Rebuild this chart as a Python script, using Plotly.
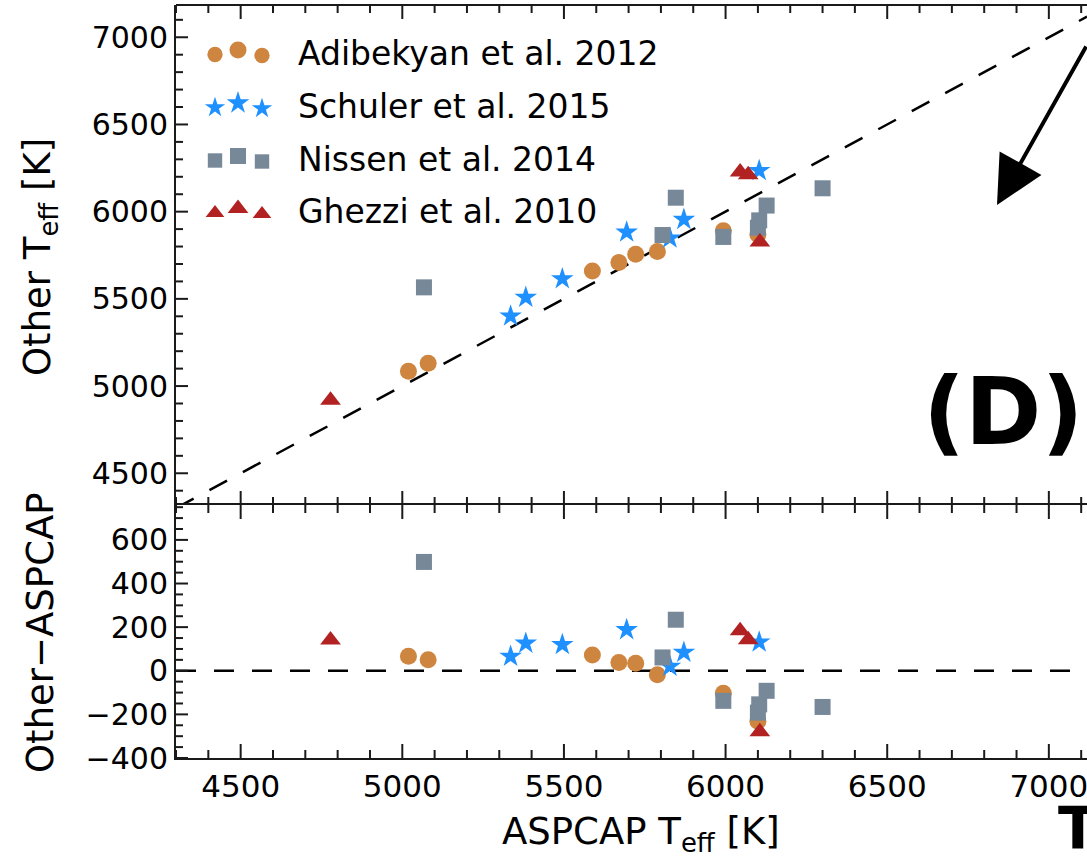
import plotly.graph_objects as go

# ---- data: ASPCAP vs literature effective temperatures [K] ----
adibekyan_aspcap = [5019, 5080, 5588, 5670, 5722, 5789, 5993, 6100]
adibekyan_other = [5085, 5131, 5660, 5708, 5756, 5771, 5890, 5869]

schuler_aspcap = [5335, 5382, 5495, 5694, 5828, 5871, 6104]
schuler_other = [5401, 5508, 5615, 5882, 5848, 5955, 6235]

nissen_aspcap = [5067, 5805, 5846, 5993, 6127, 6104, 6100, 6300]
nissen_other = [5566, 5866, 6080, 5855, 6035, 5950, 5908, 6134]

ghezzi_aspcap = [4778, 6045, 6070, 6106]
ghezzi_other = [4919, 6228, 6212, 5826]

series_names = ["Adibekyan et al. 2012", "Schuler et al. 2015",
                "Nissen et al. 2014", "Ghezzi et al. 2010"]

x_ticks = [4500, 5000, 5500, 6000, 6500, 7000]
top_ticks = [4500, 5000, 5500, 6000, 6500, 7000]
bottom_ticks = [-400, -200, 0, 200, 400, 600]

# ---- layout geometry ----
W, H = 1087, 858
L, R, T, B = 176, 0, 5, 100
PW, PH = W - L - R, H - T - B
SPLIT = 505  # pixel row separating the two panels
X_RANGE = [4300, 7118]
TOP_RANGE = [4318, 7185]
BOT_RANGE = [-400, 760]
TOP_H = SPLIT - T
BOT_H = H - B - SPLIT


def px_x(px):
    return (px - L) / PW


def px_y(py):
    return (H - B - py) / PH


split_frac = px_y(SPLIT)


# pixel position inside the upper panel -> its data coordinates
def top_x(px):
    return X_RANGE[0] + (px - L) / PW * (X_RANGE[1] - X_RANGE[0])


def top_y(py):
    return TOP_RANGE[1] - (py - T) / TOP_H * (TOP_RANGE[1] - TOP_RANGE[0])


styles = [
    dict(symbol="circle", color="#CD853F", size=17),
    dict(symbol="star", color="#1E90FF", size=17),
    dict(symbol="square", color="#778899", size=16),
    dict(symbol="triangle-up", color="#B22222", size=18),
]
xs = [adibekyan_aspcap, schuler_aspcap, nissen_aspcap, ghezzi_aspcap]
ys = [adibekyan_other, schuler_other, nissen_other, ghezzi_other]

fig = go.Figure()

# one-to-one reference line and zero-offset line
fig.add_trace(go.Scatter(x=X_RANGE, y=X_RANGE, mode="lines",
                         line=dict(color="black", width=2.5, dash="20px,18px"),
                         xaxis="x", yaxis="y", showlegend=False, hoverinfo="skip"))
fig.add_trace(go.Scatter(x=X_RANGE, y=[0, 0], mode="lines",
                         line=dict(color="black", width=2.5, dash="20px,18px"),
                         xaxis="x2", yaxis="y2", showlegend=False, hoverinfo="skip"))

for name, st, xv, yv in zip(series_names, styles, xs, ys):
    marker = dict(symbol=st["symbol"], color=st["color"], size=st["size"],
                  opacity=1, line=dict(width=0))
    fig.add_trace(go.Scatter(x=xv, y=yv, mode="markers", marker=marker,
                             name=name, xaxis="x", yaxis="y", showlegend=False))
    diff = [o - a for a, o in zip(xv, yv)]
    fig.add_trace(go.Scatter(x=xv, y=diff, mode="markers", marker=marker,
                             name=name, xaxis="x2", yaxis="y2", showlegend=False))

# legend: three staggered markers per entry in the upper-left corner
row_centers = [51, 104, 157, 209.5]
handle_x = [215, 238, 262]
handle_dy = [3.5, -1, 4.5]
handle_scale = [0.9, 1.0, 0.9]
for st, yc in zip(styles, row_centers):
    fig.add_trace(go.Scatter(
        x=[top_x(h) for h in handle_x], y=[top_y(yc + d) for d in handle_dy],
        mode="markers",
        marker=dict(symbol=st["symbol"], color=st["color"], opacity=1,
                    size=[st["size"] * s for s in handle_scale], line=dict(width=0)),
        xaxis="x", yaxis="y", showlegend=False, hoverinfo="skip"))

AX = "#1a1a1a"
tick_font = dict(family="DejaVu Sans", size=30, color="black")


def axis(ticks, **kw):
    base = dict(showline=True, linecolor=AX, linewidth=2, ticks="",
                tickmode="linear", tick0=ticks[0], dtick=ticks[1] - ticks[0],
                showgrid=False, zeroline=False)
    base.update(kw)
    return base


fig.update_layout(
    width=W, height=H,
    margin=dict(l=L, r=R, t=T, b=B),
    paper_bgcolor="white", plot_bgcolor="white",
    showlegend=False,
    xaxis=axis(x_ticks, domain=[0, 1], range=X_RANGE, anchor="y",
               showline=False, showticklabels=False),
    yaxis=axis(top_ticks, domain=[split_frac, 1], range=TOP_RANGE,
               anchor="x", tickfont=tick_font),
    xaxis2=axis(x_ticks, domain=[0, 1], range=X_RANGE, anchor="y2",
                mirror=True, ticklabeloverflow="allow",
                tickfont=dict(family="DejaVu Sans", size=31, color="black")),
    yaxis2=axis(bottom_ticks, domain=[0, split_frac], range=BOT_RANGE,
                anchor="x2", tickfont=tick_font),
)

# ---- spine ticks (inside, major + minor) drawn as short line shapes ----
shapes = [dict(type="line", xref="paper", yref="paper", x0=0, x1=1, y0=1, y1=1,
               line=dict(color=AX, width=2))]
tick_line = dict(color=AX, width=2)


def steps(start, stop, step):
    vals, v = [], start
    while v <= stop + 1e-9:
        vals.append(v)
        v += step
    return vals


def x_ticks_on(xref, yref, panel_h, major, minor_step):
    for v in steps(X_RANGE[0], X_RANGE[1], minor_step):
        ln = 14 if v in major else 8
        for base, sgn in ((0, 1), (1, -1)):
            shapes.append(dict(type="line", xref=xref, yref=yref + " domain",
                               x0=v, x1=v, y0=base, y1=base + sgn * ln / panel_h,
                               line=tick_line))


def y_ticks_on(xref, yref, rng, major, minor_step):
    start = major[0] - minor_step * int((major[0] - rng[0]) // minor_step)
    for v in steps(start, rng[1], minor_step):
        if v < rng[0]:
            continue
        ln = 12 if v in major else 7
        shapes.append(dict(type="line", xref=xref + " domain", yref=yref,
                           x0=0, x1=ln / PW, y0=v, y1=v, line=tick_line))


x_ticks_on("x", "y", TOP_H, x_ticks, 100)
x_ticks_on("x2", "y2", BOT_H, x_ticks, 100)
y_ticks_on("x", "y", TOP_RANGE, top_ticks, 100)
y_ticks_on("x2", "y2", BOT_RANGE, bottom_ticks, 50)
fig.update_layout(shapes=shapes)

title_font = dict(family="DejaVu Sans", size=37, color="black")
legend_font = dict(family="DejaVu Sans", size=33, color="black")

annotations = [
    dict(text="ASPCAP T<sub>eff</sub> [K]", x=px_x(641), y=px_y(834),
         xanchor="center", yanchor="middle", font=title_font),
    dict(text="Other T<sub>eff</sub> [K]", x=px_x(40), y=px_y(257),
         xanchor="center", yanchor="middle", textangle=-90, font=title_font),
    dict(text="Other\u2212ASPCAP", x=px_x(40), y=px_y(633),
         xanchor="center", yanchor="middle", textangle=-90, font=title_font),
    dict(text="(D)", x=px_x(1003), y=px_y(412), xanchor="center",
         yanchor="middle", font=dict(family="DejaVu Sans", size=92,
                                       color="black", weight="bold")),
    dict(text="<b>T</b>", x=px_x(1056), y=px_y(829), xanchor="left",
         yanchor="middle", font=dict(family="DejaVu Sans", size=58, color="black")),
    dict(text="", x=px_x(997), y=px_y(205), ax=93, ay=-160, showarrow=True,
         arrowhead=2, arrowsize=2.4, arrowwidth=4, arrowcolor="black"),
]
for name, yc in zip(series_names, row_centers):
    annotations.append(dict(text=name, x=px_x(296), y=px_y(yc + 2),
                            xanchor="left", yanchor="middle", font=legend_font))

for a in annotations:
    a.setdefault("showarrow", False)
    a["xref"] = "paper"
    a["yref"] = "paper"
fig.update_layout(annotations=annotations)

fig.write_html("out.html")
